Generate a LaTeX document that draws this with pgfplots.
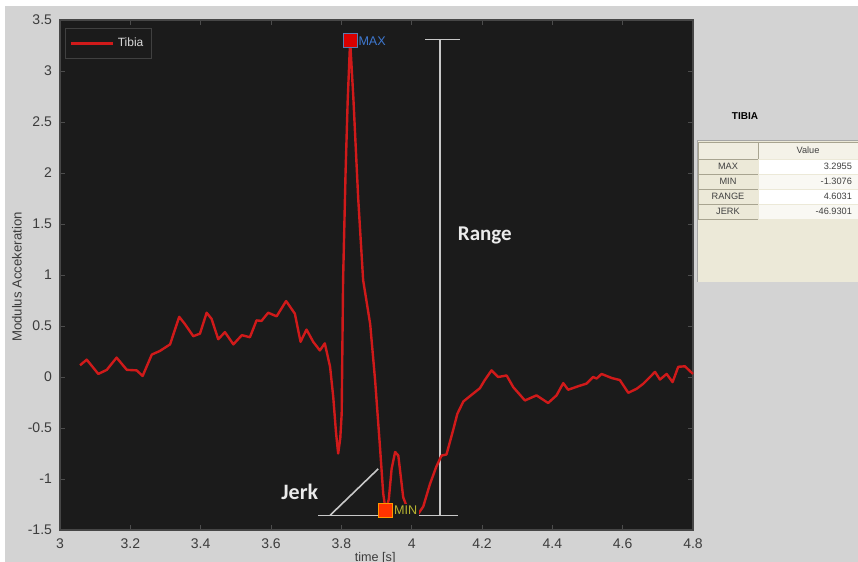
\documentclass[border=0pt]{standalone}
\usepackage{pgfplots}
\pgfplotsset{compat=1.18}
\usepackage{fontspec}
\setmainfont{Liberation Sans}
\newfontfamily\calibri{Carlito}
\definecolor{bggray}{HTML}{D3D3D3}
\definecolor{plotbg}{HTML}{1B1B1B}
\definecolor{tibia}{HTML}{D01A1A}
\definecolor{panel}{HTML}{ECE9D8}
\definecolor{cellbd}{HTML}{A8A490}
\definecolor{maxblue}{HTML}{3E78D0}
\definecolor{minyel}{HTML}{B8B430}
\definecolor{ticktxt}{HTML}{3C3C3C}
\definecolor{annot}{HTML}{C8C8C8}
\begin{document}
\begin{tikzpicture}
\useasboundingbox (-30pt,-16pt) rectangle (399pt,265pt);
\fill[white] (-30pt,-16pt) rectangle (399pt,265pt);
\fill[bggray] (-27.5pt,-16pt) rectangle (399pt,262pt);
% side panel
\fill[panel] (318.5pt,124pt) rectangle (399pt,194.5pt);
\draw[gray!70, line width=0.5pt] (318.5pt,124pt) -- (318.5pt,194.5pt) -- (399pt,194.5pt);
% table cells
\filldraw[fill=panel!80!white, draw=cellbd, line width=0.3pt] (319pt,185.5pt) rectangle (349pt,194pt);
\filldraw[fill=panel!60!white, draw=cellbd, line width=0.3pt] (349pt,185.5pt) rectangle (402pt,194pt);
\filldraw[fill=panel, draw=cellbd, line width=0.3pt] (319pt,178pt) rectangle (349pt,185.5pt);
\filldraw[fill=white, draw=panel, line width=0.3pt] (349pt,178pt) rectangle (402pt,185.5pt);
\filldraw[fill=panel, draw=cellbd, line width=0.3pt] (319pt,170.5pt) rectangle (349pt,178pt);
\filldraw[fill=panel!30!white, draw=panel, line width=0.3pt] (349pt,170.5pt) rectangle (402pt,178pt);
\filldraw[fill=panel, draw=cellbd, line width=0.3pt] (319pt,163pt) rectangle (349pt,170.5pt);
\filldraw[fill=white, draw=panel, line width=0.3pt] (349pt,163pt) rectangle (402pt,170.5pt);
\filldraw[fill=panel, draw=cellbd, line width=0.3pt] (319pt,155.5pt) rectangle (349pt,163pt);
\filldraw[fill=panel!30!white, draw=panel, line width=0.3pt] (349pt,155.5pt) rectangle (402pt,163pt);
\node[font=\bfseries\fontsize{5}{6}\selectfont, text=black] at (342.5pt,207pt) {TIBIA};
\begin{scope}[font=\fontsize{4.6}{5.5}\selectfont, text=black!75]
\node at (374pt,189.8pt) {Value};
\node at (334pt,181.8pt) {MAX};
\node at (334pt,174.3pt) {MIN};
\node at (334pt,166.8pt) {RANGE};
\node at (334pt,159.3pt) {JERK};
\node[anchor=east] at (399.5pt,181.8pt) {3.2955};
\node[anchor=east] at (399.5pt,174.3pt) {-1.3076};
\node[anchor=east] at (399.5pt,166.8pt) {4.6031};
\node[anchor=east] at (399.5pt,159.3pt) {-46.9301};
\end{scope}
\begin{axis}[
  scale only axis, width=316.5pt, height=255pt,
  xmin=3, xmax=4.8, ymin=-1.5, ymax=3.5,
  xtick={3,3.2,3.4,3.6,3.8,4,4.2,4.4,4.6,4.8},
  ytick={-1.5,-1,-0.5,0,0.5,1,1.5,2,2.5,3,3.5},
  /pgf/number format/assume math mode=true,
  tick label style={font=\fontsize{7}{8}\selectfont, text=ticktxt},
  xticklabel style={yshift=-1pt},
  yticklabel style={xshift=-0.5pt},
  axis background/.style={fill=plotbg},
  axis line style={draw=gray!55!black, line width=0.6pt},
  tick style={draw=black!70, line width=0.4pt},
  major tick length=2.5pt,
  ylabel={Modulus Accekeration},
  xlabel={time [s]},
  ylabel style={font=\fontsize{6.6}{7.5}\selectfont, text=ticktxt, at={(axis description cs:-0.068,0.496)}, anchor=center},
  xlabel style={font=\fontsize{6.3}{7}\selectfont, text=ticktxt, at={(axis description cs:0.498,-0.055)}, anchor=center},
  legend style={at={(0.008,0.984)}, anchor=north west, fill=plotbg, draw=black!75,
    text=white!85!black, font=\fontsize{6}{7}\selectfont, inner xsep=2pt, inner ysep=2.5pt},
  legend cell align=left,
  legend image code/.code={\draw[#1, line width=1.2pt] (0pt,0pt) -- (21pt,0pt);},
  clip=false,
]
% annotation lines
\draw[annot, line width=0.8pt] (axis cs:4.0805,3.31) -- (axis cs:4.0805,-1.356);
\draw[annot, line width=0.8pt] (axis cs:4.038,3.31) -- (axis cs:4.137,3.31);
\draw[annot, line width=0.8pt] (axis cs:3.734,-1.356) -- (axis cs:4.132,-1.356);
\draw[annot, line width=0.8pt] (axis cs:3.768,-1.356) -- (axis cs:3.905,-0.90);
\node[font=\calibri\bfseries\fontsize{11}{12}\selectfont, text=white!92!black] at (axis cs:3.682,-1.13) {Jerk};
\node[font=\calibri\bfseries\fontsize{10.5}{12}\selectfont, text=white!92!black] at (axis cs:4.208,1.39) {Range};
\addplot[tibia, line width=1.2pt, line join=round] coordinates {
(3.057,0.115) (3.076,0.17) (3.109,0.03) (3.133,0.07) (3.161,0.19) (3.19,0.07)
(3.218,0.065) (3.235,0.01) (3.261,0.22) (3.284,0.255) (3.313,0.32) (3.339,0.59)
(3.355,0.52) (3.379,0.40) (3.398,0.425) (3.417,0.63) (3.431,0.57) (3.45,0.37)
(3.469,0.44) (3.493,0.32) (3.517,0.41) (3.54,0.39) (3.559,0.555) (3.573,0.55)
(3.592,0.63) (3.616,0.595) (3.643,0.745) (3.668,0.62) (3.684,0.345) (3.701,0.465)
(3.72,0.345) (3.739,0.26) (3.753,0.33) (3.768,0.10) (3.777,-0.196) (3.785,-0.55) (3.791,-0.75)
(3.797,-0.6) (3.801,-0.36) (3.805,0.95) (3.812,2.0) (3.818,2.7) (3.825,3.2955) (3.834,2.75)
(3.848,1.75) (3.862,0.95) (3.882,0.52) (3.896,-0.03) (3.91,-0.69) (3.919,-1.14)
(3.926,-1.3076) (3.935,-1.2) (3.943,-0.9) (3.953,-0.735) (3.962,-0.77) (3.976,-1.18)
(3.986,-1.27) (4.005,-1.30) (4.019,-1.34) (4.033,-1.27) (4.052,-1.05) (4.07,-0.88)
(4.085,-0.77) (4.099,-0.76) (4.118,-0.52) (4.13,-0.36) (4.147,-0.24) (4.165,-0.19)
(4.194,-0.11) (4.208,-0.03) (4.227,0.065) (4.246,0.0) (4.27,0.015) (4.289,-0.10)
(4.322,-0.23) (4.355,-0.18) (4.388,-0.255) (4.412,-0.18) (4.431,-0.06) (4.445,-0.125)
(4.474,-0.09) (4.497,-0.065) (4.516,0.0) (4.526,-0.015) (4.54,0.03) (4.569,-0.01)
(4.592,-0.03) (4.616,-0.155) (4.64,-0.115) (4.659,-0.065) (4.692,0.05) (4.706,-0.025)
(4.725,0.03) (4.742,-0.05) (4.758,0.10) (4.777,0.105) (4.8,0.03)
};
\addlegendentry{Tibia}
\addplot[forget plot, only marks, mark=square*, mark size=3.5pt,
  mark options={fill=red!85!black, draw=maxblue!60!gray, line width=0.5pt}]
  coordinates {(3.825,3.2955)};
\addplot[forget plot, only marks, mark=square*, mark size=3.5pt,
  mark options={fill=red!60!orange, draw=orange!80!yellow, line width=0.6pt}]
  coordinates {(3.926,-1.3076)};
\node[anchor=west, font=\fontsize{6.3}{7}\selectfont, text=maxblue, inner sep=1pt] at (axis cs:3.842,3.2955) {MAX};
\node[anchor=west, font=\fontsize{6.3}{7}\selectfont, text=minyel, fill=plotbg, inner sep=1pt] at (axis cs:3.943,-1.3076) {MIN};
\end{axis}
\end{tikzpicture}
\end{document}
